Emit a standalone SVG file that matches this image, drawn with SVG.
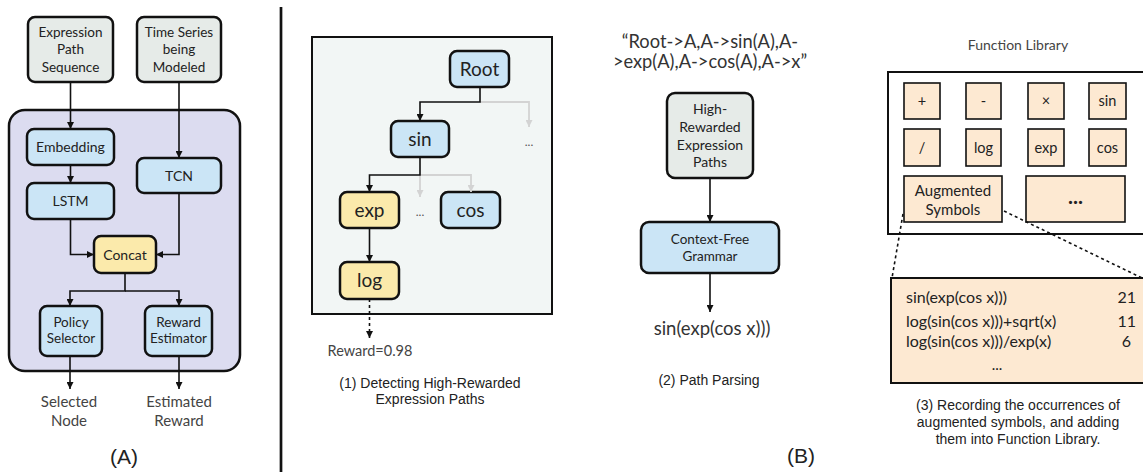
<svg xmlns="http://www.w3.org/2000/svg" width="1143" height="472" viewBox="0 0 1143 472">
<defs>
<style>
.nd{stroke:#111;stroke-width:2.5}
.g{fill:#e6ebe8}
.b{fill:#cbe5f6}
.y{fill:#fbeaab}
.p{fill:#fde9d2;stroke:#111;stroke-width:1.6}
.t{font-family:Lato,"Noto Sans",sans-serif;fill:#222;text-anchor:middle}
.s13{font-size:13.5px}
.s14{font-size:14px}
.s19{font-size:19px}
.cap{font-family:"Liberation Sans",Arial,sans-serif;fill:#222;text-anchor:middle}
.ln{fill:none;stroke:#111;stroke-width:1.6}
.gl{fill:none;stroke:#d3d3d3;stroke-width:1.8}
</style>
<marker id="ah" viewBox="0 0 10 10" refX="10" refY="5" markerWidth="7" markerHeight="7" markerUnits="userSpaceOnUse" orient="auto"><path d="M0,0L10,5L0,10z" fill="#111"/></marker>
<marker id="ag" viewBox="0 0 10 10" refX="10" refY="5" markerWidth="7" markerHeight="7" markerUnits="userSpaceOnUse" orient="auto"><path d="M0,0L10,5L0,10z" fill="#d3d3d3"/></marker>
</defs>
<rect width="1143" height="472" fill="#fff"/>

<!-- Panel A -->
<g id="containerA"><rect x="9" y="110" width="231" height="261" rx="16" fill="#dcdcf0" stroke="#111" stroke-width="2.5"/></g>
<g id="expr-path"><rect class="nd g" x="28" y="17" width="85" height="65" rx="7"/><text class="t s13"><tspan x="70.5" y="36.5">Expression</tspan><tspan x="70.5" y="54">Path</tspan><tspan x="70.5" y="71.5">Sequence</tspan></text></g>
<g id="time-series"><rect class="nd g" x="137" y="17" width="84" height="65" rx="7"/><text class="t s13"><tspan x="179" y="36.5">Time Series</tspan><tspan x="179" y="54">being</tspan><tspan x="179" y="71.5">Modeled</tspan></text></g>
<g id="embedding"><rect class="nd b" x="27" y="129" width="87" height="36" rx="7"/><text class="t s14" x="70.5" y="152">Embedding</text></g>
<g id="lstm"><rect class="nd b" x="27" y="183" width="87" height="36" rx="7"/><text class="t s14" x="70.5" y="206">LSTM</text></g>
<g id="tcn"><rect class="nd b" x="137" y="158" width="84" height="35" rx="7"/><text class="t s14" x="179" y="180.5">TCN</text></g>
<g id="concat"><rect class="nd y" x="94" y="236" width="62" height="37" rx="7"/><text class="t s14" x="125" y="260">Concat</text></g>
<g id="policy"><rect class="nd b" x="40" y="306" width="62" height="50" rx="7"/><text class="t s13"><tspan x="71" y="326.5">Policy</tspan><tspan x="71" y="342.5">Selector</tspan></text></g>
<g id="reward-est"><rect class="nd b" x="145" y="306" width="67" height="50" rx="7"/><text class="t s13"><tspan x="178.5" y="326.5">Reward</tspan><tspan x="178.5" y="342.5">Estimator</tspan></text></g>
<g id="out-selected"><text class="t" style="font-size:15px;fill:#444"><tspan x="69" y="407">Selected</tspan><tspan x="69" y="426">Node</tspan></text></g>
<g id="out-reward"><text class="t" style="font-size:15px;fill:#444"><tspan x="179" y="407">Estimated</tspan><tspan x="179" y="426">Reward</tspan></text></g>
<text class="cap" x="124" y="464" style="font-size:21px">(A)</text>

<line x1="281" y1="7" x2="281" y2="472" stroke="#111" stroke-width="2.7"/>

<!-- Panel B1 -->
<g id="tree-panel"><rect x="312" y="37" width="240" height="277" fill="#f2f6f5" stroke="#111" stroke-width="2"/></g>
<g id="root"><rect class="nd b" x="450" y="51" width="59" height="36" rx="7"/><text class="t s19" x="479.5" y="75.5">Root</text></g>
<g id="sin"><rect class="nd b" x="391" y="121" width="58" height="36" rx="7"/><text class="t s19" x="420" y="145.5">sin</text></g>
<g id="exp"><rect class="nd y" x="340" y="192" width="59" height="36" rx="7"/><text class="t s19" x="369.5" y="216.5">exp</text></g>
<g id="cos"><rect class="nd b" x="441" y="192" width="59" height="36" rx="7"/><text class="t s19" x="470.5" y="216.5">cos</text></g>
<g id="log"><rect class="nd y" x="340" y="262" width="59" height="37" rx="7"/><text class="t s19" x="369.5" y="286.5">log</text></g>
<text class="t" x="529" y="146" style="font-size:12px;fill:#555">...</text>
<text class="t" x="420" y="216" style="font-size:12px;fill:#555">...</text>
<text class="t" x="370" y="355.5" style="font-size:14.5px;fill:#444">Reward=0.98</text>
<text class="cap" style="font-size:14px"><tspan x="430" y="388">(1) Detecting High-Rewarded</tspan><tspan x="430" y="404">Expression Paths</tspan></text>

<!-- Panel B2 -->
<text class="t" style="font-size:18.3px;fill:#333"><tspan x="710" y="48">“Root-&gt;A,A-&gt;sin(A),A-</tspan><tspan x="710" y="68">&gt;exp(A),A-&gt;cos(A),A-&gt;x”</tspan></text>
<g id="hr-paths"><rect class="nd g" x="667" y="93" width="86" height="85" rx="8"/><text class="t s14"><tspan x="710" y="113.5">High-</tspan><tspan x="710" y="131.5">Rewarded</tspan><tspan x="710" y="149.5">Expression</tspan><tspan x="710" y="166.5">Paths</tspan></text></g>
<g id="cfg"><rect class="nd b" x="641" y="222" width="138" height="51" rx="8"/><text class="t s13"><tspan x="710" y="243.5">Context-Free</tspan><tspan x="710" y="260.5">Grammar</tspan></text></g>
<text class="t" x="712" y="334.5" style="font-size:18.5px;fill:#333">sin(exp(cos x)))</text>
<text class="cap" x="709" y="385" style="font-size:14px">(2) Path Parsing</text>
<text class="cap" x="801" y="463" style="font-size:21px">(B)</text>

<!-- Panel B3 -->
<text class="t" x="1018" y="50" style="font-size:14px;fill:#444">Function Library</text>
<g id="library"><rect x="888" y="72" width="260" height="162" fill="#fff" stroke="#111" stroke-width="2"/></g>
<g id="f-plus"><rect class="p" x="904" y="83" width="36" height="36"/><text class="t" style="font-size:14.5px" x="922" y="106">+</text></g>
<g id="f-minus"><rect class="p" x="966" y="83" width="35" height="36"/><text class="t" style="font-size:14.5px" x="983.5" y="106">-</text></g>
<g id="f-times"><rect class="p" x="1028" y="83" width="36" height="36"/><text class="t" style="font-size:14.5px" x="1046" y="106">×</text></g>
<g id="f-sin"><rect class="p" x="1089" y="83" width="37" height="36"/><text class="t" style="font-size:14.5px" x="1107.5" y="106">sin</text></g>
<g id="f-div"><rect class="p" x="904" y="129" width="36" height="37"/><text class="t" style="font-size:14.5px" x="922" y="152.5">/</text></g>
<g id="f-log"><rect class="p" x="966" y="129" width="35" height="37"/><text class="t" style="font-size:14.5px" x="983.5" y="152.5">log</text></g>
<g id="f-exp"><rect class="p" x="1028" y="129" width="36" height="37"/><text class="t" style="font-size:14.5px" x="1046" y="152.5">exp</text></g>
<g id="f-cos"><rect class="p" x="1089" y="129" width="37" height="37"/><text class="t" style="font-size:14.5px" x="1107.5" y="152.5">cos</text></g>
<g id="f-aug"><rect class="p" x="904" y="176" width="98" height="46"/><text class="t" style="font-size:15px"><tspan x="953" y="195.5">Augmented</tspan><tspan x="953" y="215">Symbols</tspan></text></g>
<g id="f-more"><rect class="p" x="1026" y="176" width="99" height="46"/><text class="t" x="1075.5" y="204" style="font-size:21px;font-weight:bold">...</text></g>
<g id="aug-table"><rect x="891" y="278" width="260" height="105" fill="#fde9d2" stroke="#111" stroke-width="2"/>
<text class="t" style="font-size:16px;text-anchor:start"><tspan x="906" y="303">sin(exp(cos x)))</tspan><tspan x="906" y="327">log(sin(cos x)))+sqrt(x)</tspan><tspan x="906" y="347">log(sin(cos x)))/exp(x)</tspan></text>
<text class="t" style="font-size:16px;text-anchor:end"><tspan x="1136" y="303">21</tspan><tspan x="1136" y="327">11</tspan><tspan x="1131" y="347">6</tspan></text>
<text class="t" x="997" y="370" style="font-size:15px">...</text></g>
<text class="cap" style="font-size:14px"><tspan x="1018" y="410">(3) Recording the occurrences of</tspan><tspan x="1018" y="427">augmented symbols, and adding</tspan><tspan x="1018" y="444">them into Function Library.</tspan></text>

<g id="connectors">
<line class="ln" x1="70.5" y1="82" x2="70.5" y2="129" marker-end="url(#ah)"/>
<line class="ln" x1="179" y1="82" x2="179" y2="158" marker-end="url(#ah)"/>
<line class="ln" x1="70.5" y1="165" x2="70.5" y2="183" marker-end="url(#ah)"/>
<polyline class="ln" points="70.5,219 70.5,254.5 94,254.5" marker-end="url(#ah)"/>
<polyline class="ln" points="179,193 179,254.5 156,254.5" marker-end="url(#ah)"/>
<polyline class="ln" points="125,273 125,291 70,291 70,306" marker-end="url(#ah)"/>
<polyline class="ln" points="125,291 179,291 179,306" marker-end="url(#ah)"/>
<line class="ln" x1="70" y1="356" x2="70" y2="389" marker-end="url(#ah)"/>
<line class="ln" x1="179" y1="356" x2="179" y2="389" marker-end="url(#ah)"/>

<polyline class="gl" points="480,102 529,102 529,127" marker-end="url(#ag)"/>
<polyline class="gl" points="420,175 471,175 471,192" marker-end="url(#ag)"/>
<line class="gl" x1="420" y1="175" x2="420" y2="197" marker-end="url(#ag)"/>
<polyline class="ln" points="480,87 480,102 420,102 420,121" marker-end="url(#ah)"/>
<polyline class="ln" points="420,157 420,175 369.5,175 369.5,192" marker-end="url(#ah)"/>
<line class="ln" x1="369.5" y1="228" x2="369.5" y2="262" marker-end="url(#ah)"/>
<line class="ln" x1="369.5" y1="299" x2="369.5" y2="338" stroke-dasharray="3,3" marker-end="url(#ah)"/>

<line class="ln" x1="710" y1="178" x2="710" y2="222" marker-end="url(#ah)"/>
<line class="ln" x1="710" y1="273" x2="710" y2="312" marker-end="url(#ah)"/>

<line class="ln" x1="903" y1="214" x2="892" y2="278" stroke-dasharray="3,3"/>
<line class="ln" x1="1004" y1="211" x2="1142" y2="278" stroke-dasharray="3,3"/>
</g>
</svg>
